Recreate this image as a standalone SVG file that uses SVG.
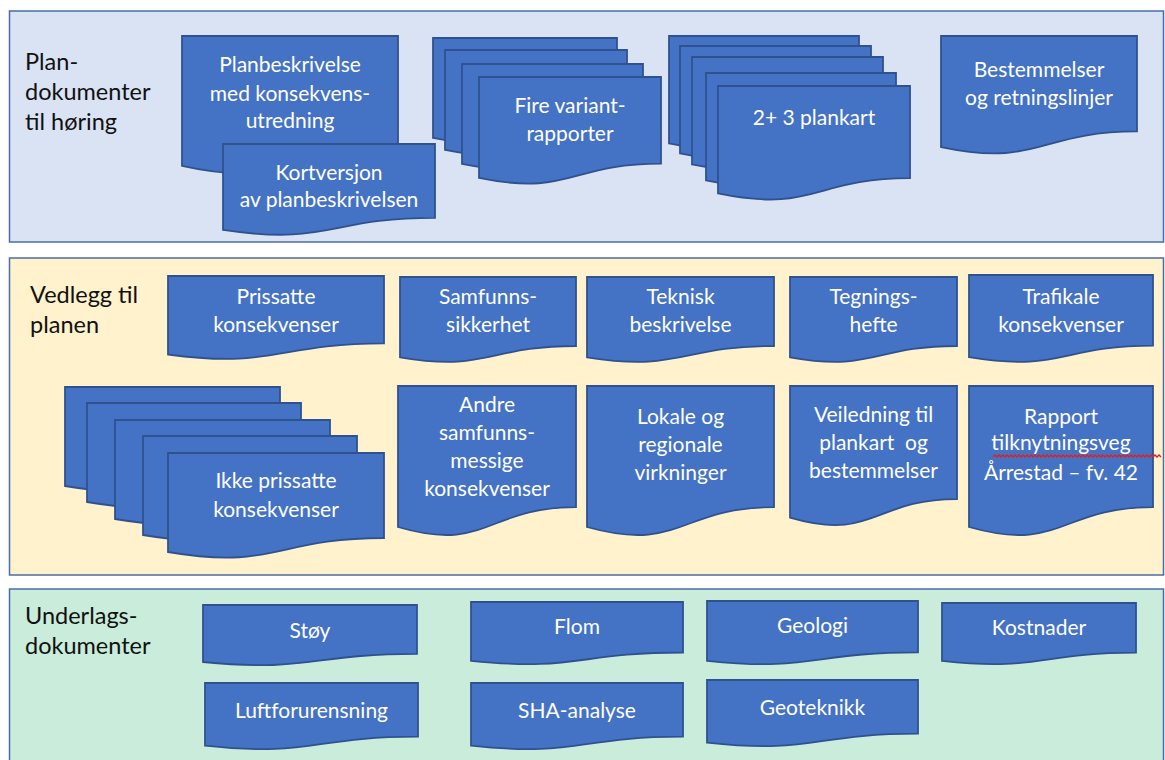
<svg xmlns="http://www.w3.org/2000/svg" width="1165" height="760" viewBox="0 0 1165 760">
<style>
.panel{stroke:#4A6DA7;stroke-width:1.5}
.doc{fill:#4472C4;stroke:#2F528F;stroke-width:1.8}
.t{font-family:Lato,"Liberation Sans",sans-serif;font-size:21px;fill:#FFFFFF;text-anchor:middle}
.lbl{font-family:Lato,"Liberation Sans",sans-serif;font-size:23.5px;fill:#111111}
</style>
<rect width="1165" height="760" fill="#FFFFFF"/>
<g id="panel-plan">
<rect class="panel" x="9.5" y="11" width="1154" height="231" fill="#DAE3F3"/>
<text class="lbl" x="25" y="70">Plan-</text>
<text class="lbl" x="25" y="100">dokumenter</text>
<text class="lbl" x="25" y="130">til høring</text>
</g>
<g id="panel-vedlegg">
<rect class="panel" x="9.5" y="258" width="1154" height="317" fill="#FFF2CC"/>
<text class="lbl" x="30" y="303">Vedlegg til</text>
<text class="lbl" x="30" y="333">planen</text>
</g>
<g id="panel-underlag">
<rect class="panel" x="9.5" y="589" width="1154" height="190" fill="#C9EDDA"/>
<text class="lbl" x="25" y="624">Underlags-</text>
<text class="lbl" x="25" y="654">dokumenter</text>
</g>
<g id="connectors"></g>
<g id="n-planbeskrivelse">
<path class="doc" d="M182,36 H398 V147.5 C290,147.5 290,189.9 182,165.8 Z"/>
<text class="t" x="290" y="72">Planbeskrivelse</text>
<text class="t" x="290" y="101">med konsekvens-</text>
<text class="t" x="290" y="128">utredning</text>
</g>
<g id="n-kortversjon">
<path class="doc" d="M223,144 H435 V217.8 C329,217.8 329,245.8 223,229.9 Z"/>
<text class="t" x="329" y="180">Kortversjon</text>
<text class="t" x="329" y="207">av planbeskrivelsen</text>
</g>
<g id="n-variantrapporter">
<path class="doc" d="M433,38 H617 V123.8 C525,123.8 525,156.4 433,137.9 Z"/>
<path class="doc" d="M445,50 H627 V135.8 C536,135.8 536,168.4 445,149.9 Z"/>
<path class="doc" d="M462,64 H643 V149.8 C552.5,149.8 552.5,182.4 462,163.9 Z"/>
<path class="doc" d="M479,77 H661 V163.6 C570,163.6 570,196.6 479,177.9 Z"/>
<text class="t" x="570" y="113">Fire variant-</text>
<text class="t" x="570" y="141">rapporter</text>
</g>
<g id="n-plankart">
<path class="doc" d="M669,36 H859 V128.2 C764,128.2 764,163.3 669,143.4 Z"/>
<path class="doc" d="M680,46 H871 V138.2 C775.5,138.2 775.5,173.3 680,153.4 Z"/>
<path class="doc" d="M692,57 H883 V149.2 C787.5,149.2 787.5,184.3 692,164.4 Z"/>
<path class="doc" d="M706,73 H896 V165.2 C801,165.2 801,200.3 706,180.4 Z"/>
<path class="doc" d="M718,86 H910 V178.2 C814,178.2 814,213.3 718,193.4 Z"/>
<text class="t" x="814" y="125">2+ 3 plankart</text>
</g>
<g id="n-bestemmelser">
<path class="doc" d="M941,36 H1137 V131.4 C1039,131.4 1039,167.7 941,147.1 Z"/>
<text class="t" x="1039" y="77">Bestemmelser</text>
<text class="t" x="1039" y="105">og retningslinjer</text>
</g>
<g id="n-prissatte">
<path class="doc" d="M168,276 H384 V343.4 C276,343.4 276,369 168,354.5 Z"/>
<text class="t" x="276" y="304">Prissatte</text>
<text class="t" x="276" y="332">konsekvenser</text>
</g>
<g id="n-samfunnssikkerhet">
<path class="doc" d="M400,277 H576 V346 C488,346 488,372.2 400,357.3 Z"/>
<text class="t" x="488" y="304">Samfunns-</text>
<text class="t" x="488" y="332">sikkerhet</text>
</g>
<g id="n-teknisk">
<path class="doc" d="M587,277 H774 V346 C680.5,346 680.5,372.2 587,357.3 Z"/>
<text class="t" x="680.5" y="304">Teknisk</text>
<text class="t" x="680.5" y="332">beskrivelse</text>
</g>
<g id="n-tegningshefte">
<path class="doc" d="M790,277 H957 V346 C873.5,346 873.5,372.2 790,357.3 Z"/>
<text class="t" x="873.5" y="304">Tegnings-</text>
<text class="t" x="873.5" y="332">hefte</text>
</g>
<g id="n-trafikale">
<path class="doc" d="M969,275 H1153 V345.6 C1061,345.6 1061,372.4 969,357.2 Z"/>
<text class="t" x="1061" y="304">Trafikale</text>
<text class="t" x="1061" y="332">konsekvenser</text>
</g>
<g id="n-ikkeprissatte">
<path class="doc" d="M65,387 H280 V472 C172.5,472 172.5,504.3 65,486 Z"/>
<path class="doc" d="M87,403 H301 V488 C194,488 194,520.3 87,502 Z"/>
<path class="doc" d="M115,420 H330 V505 C222.5,505 222.5,537.3 115,519 Z"/>
<path class="doc" d="M143,436 H357 V521 C250,521 250,553.3 143,535 Z"/>
<path class="doc" d="M168,453 H384 V538 C276,538 276,570.3 168,552 Z"/>
<text class="t" x="276" y="488">Ikke prissatte</text>
<text class="t" x="276" y="517">konsekvenser</text>
</g>
<g id="n-andre">
<path class="doc" d="M398,386 H576 V507.1 C487,507.1 487,553.2 398,527 Z"/>
<text class="t" x="487" y="412">Andre</text>
<text class="t" x="487" y="440">samfunns-</text>
<text class="t" x="487" y="468">messige</text>
<text class="t" x="487" y="496">konsekvenser</text>
</g>
<g id="n-lokale">
<path class="doc" d="M587,386 H774 V507.1 C680.5,507.1 680.5,553.2 587,527 Z"/>
<text class="t" x="680.5" y="424">Lokale og</text>
<text class="t" x="680.5" y="452">regionale</text>
<text class="t" x="680.5" y="480">virkninger</text>
</g>
<g id="n-veiledning">
<path class="doc" d="M790,386 H957 V499.1 C873.5,499.1 873.5,542.1 790,517.7 Z"/>
<text class="t" x="873.5" y="422">Veiledning til</text>
<text class="t" x="873.5" y="450" xml:space="preserve">plankart  og</text>
<text class="t" x="873.5" y="478">bestemmelser</text>
</g>
<g id="n-rapport">
<path class="doc" d="M969,386 H1153 V507.1 C1061,507.1 1061,553.2 969,527 Z"/>
<text class="t" x="1061" y="424">Rapport</text>
<text class="t" x="1061" y="450">tilknytningsveg</text>
<path d="M993,457 l2,-2 2,2 2,-2 2,2 2,-2 2,2 2,-2 2,2 2,-2 2,2 2,-2 2,2 2,-2 2,2 2,-2 2,2 2,-2 2,2 2,-2 2,2 2,-2 2,2 2,-2 2,2 2,-2 2,2 2,-2 2,2 2,-2 2,2 2,-2 2,2 2,-2 2,2 2,-2 2,2 2,-2 2,2 2,-2 2,2 2,-2 2,2 2,-2 2,2 2,-2 2,2 2,-2 2,2 2,-2 2,2 2,-2 2,2 2,-2 2,2 2,-2 2,2 2,-2 2,2 2,-2 2,2 2,-2 2,2 2,-2 2,2 2,-2 2,2 2,-2 2,2 2,-2 2,2 2,-2 2,2 2,-2 2,2 2,-2 2,2 2,-2 2,2 2,-2 2,2 2,-2 2,2 2,-2 2,2" fill="none" stroke="#E02020" stroke-width="1.4"/>
<text class="t" x="1061" y="480">Årrestad – fv. 42</text>
</g>
<g id="n-stoy">
<path class="doc" d="M203,605 H417 V653.9 C310,653.9 310,672.5 203,662 Z"/>
<text class="t" x="310" y="638">Støy</text>
</g>
<g id="n-flom">
<path class="doc" d="M471,602 H683 V652.5 C577,652.5 577,671.7 471,660.8 Z"/>
<text class="t" x="577" y="634">Flom</text>
</g>
<g id="n-geologi">
<path class="doc" d="M707,601 H918 V652.3 C812.5,652.3 812.5,671.8 707,660.8 Z"/>
<text class="t" x="812.5" y="633">Geologi</text>
</g>
<g id="n-kostnader">
<path class="doc" d="M942,603 H1136 V652.7 C1039,652.7 1039,671.6 942,660.9 Z"/>
<text class="t" x="1039" y="635">Kostnader</text>
</g>
<g id="n-luftforurensning">
<path class="doc" d="M205,683 H418 V736.7 C311.5,736.7 311.5,757.2 205,745.6 Z"/>
<text class="t" x="311.5" y="718">Luftforurensning</text>
</g>
<g id="n-sha">
<path class="doc" d="M471,683 H683 V736.7 C577,736.7 577,757.2 471,745.6 Z"/>
<text class="t" x="577" y="718">SHA-analyse</text>
</g>
<g id="n-geoteknikk">
<path class="doc" d="M707,680 H918 V733.7 C812.5,733.7 812.5,754.2 707,742.6 Z"/>
<text class="t" x="812.5" y="715">Geoteknikk</text>
</g>
</svg>
